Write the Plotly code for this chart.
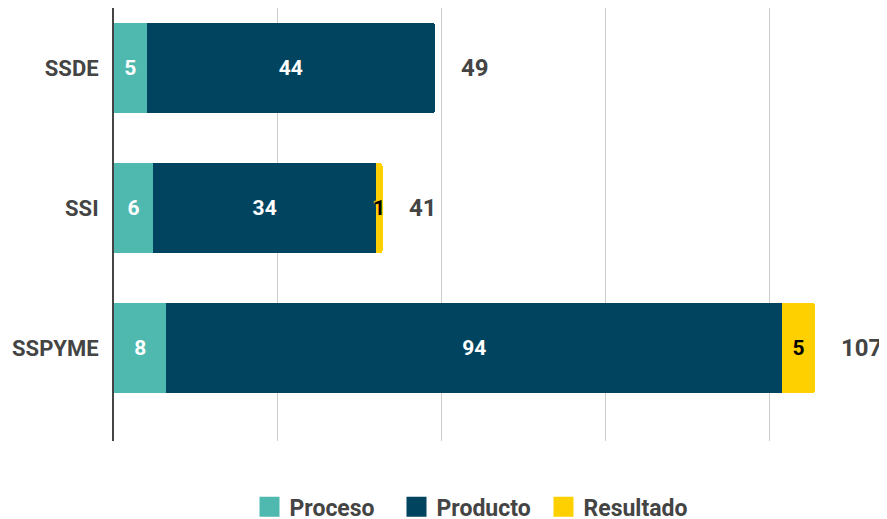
import plotly.graph_objects as go

categories = ["SSDE", "SSI", "SSPYME"]
proceso = [5, 6, 8]
producto = [44, 34, 94]
resultado = [0, 1, 5]
series_names = ["Proceso", "Producto", "Resultado"]
totals = [a + b + c for a, b, c in zip(proceso, producto, resultado)]

colors = ["#4FB9B0", "#00445F", "#FFD000"]
text_colors = ["#FFFFFF", "#FFFFFF", "#000000"]
FONT = "Roboto"

fig = go.Figure()
for name, vals, col, tcol in zip(series_names, [proceso, producto, resultado], colors, text_colors):
    fig.add_trace(go.Bar(
        name=name,
        legendgroup=name,
        showlegend=False,
        y=categories,
        x=vals,
        orientation="h",
        marker=dict(color=col, line=dict(width=0)),
        text=[str(v) if v else "" for v in vals],
        textposition="inside",
        insidetextanchor="middle",
        constraintext="none",
        textangle=0,
        textfont=dict(family=FONT, size=21, color=tcol, weight="bold",
                      shadow=("1px 1px 1px #FFD000, -1px -1px 1px #FFD000" if name == "Resultado" else "none")),
        hoverinfo="skip",
    ))
    # legend entry with a larger square swatch
    fig.add_trace(go.Scatter(
        name=name,
        legendgroup=name,
        x=[None], y=[None],
        mode="markers",
        marker=dict(symbol="square", size=16, color=col, line=dict(color=col, width=4)),
        hoverinfo="skip",
    ))

for cat, tot in zip(categories, totals):
    fig.add_annotation(
        x=tot, y=cat, text=str(tot), showarrow=False,
        xanchor="left", xshift=24,
        font=dict(family=FONT, size=24, color="#444444", weight="bold"),
    )

fig.update_layout(
    barmode="stack",
    bargap=0.357,
    barcornerradius=3,
    width=879, height=511,
    margin=dict(l=106, r=0, t=0, b=78),
    plot_bgcolor="white",
    paper_bgcolor="white",
    font=dict(family=FONT, color="#444444"),
    showlegend=True,
    legend=dict(
        orientation="h",
        xref="container", yref="container",
        x=0.5256, xanchor="center",
        y=0.024, yanchor="middle",
        font=dict(family=FONT, size=23, color="#444444", weight="bold"),
        itemwidth=30,
        itemsizing="trace",
        entrywidth=102,
        entrywidthmode="pixels",
        traceorder="normal",
        tracegroupgap=0,
    ),
    xaxis=dict(
        range=[0, 118],
        dtick=25,
        showgrid=True,
        gridcolor="#CCCCCC",
        gridwidth=1,
        zeroline=False,
        showticklabels=False,
        ticks="",
    ),
    yaxis=dict(
        type="category",
        categoryorder="array",
        categoryarray=categories,
        range=[2.664, -0.43],
        showline=True,
        linecolor="#444444",
        linewidth=2,
        showgrid=False,
        zeroline=False,
        ticks="",
        ticklabelstandoff=9,
        tickfont=dict(family=FONT, size=22, color="#444444", weight="bold"),
    ),
)

fig.write_html("out.html")
